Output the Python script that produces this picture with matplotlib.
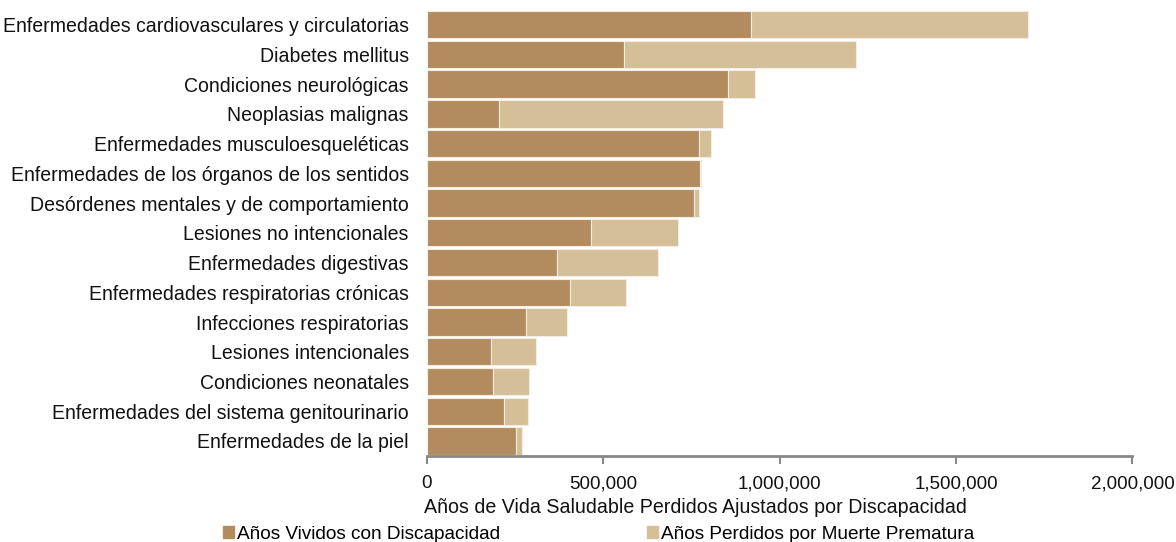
import matplotlib.pyplot as plt
from matplotlib.patches import Patch
from matplotlib.ticker import FuncFormatter

plt.rcParams['font.family'] = ['Liberation Sans', 'DejaVu Sans']

# Categories (top to bottom)
categories = [
    'Enfermedades cardiovasculares y circulatorias',
    'Diabetes mellitus',
    'Condiciones neurológicas',
    'Neoplasias malignas',
    'Enfermedades musculoesqueléticas',
    'Enfermedades de los órganos de los sentidos',
    'Desórdenes mentales y de comportamiento',
    'Lesiones no intencionales',
    'Enfermedades digestivas',
    'Enfermedades respiratorias crónicas',
    'Infecciones respiratorias',
    'Lesiones intencionales',
    'Condiciones neonatales',
    'Enfermedades del sistema genitourinario',
    'Enfermedades de la piel',
]

# Years lived with disability
avd = [920000, 560000, 853000, 205000, 771000, 774000, 758000, 465000,
       370000, 407000, 280000, 182000, 186000, 218000, 254000]
# Years lost to premature death
apmp = [783000, 656000, 76000, 634000, 34000, 3000, 13000, 248000,
        284000, 157000, 117000, 127000, 104000, 69000, 17000]

xticks = [0, 500000, 1000000, 1500000, 2000000]

dark = '#B28C5E'
light = '#D5BF99'
fs = 13.7

fig = plt.figure(figsize=(11.76, 5.42), dpi=100)
ax = fig.add_axes([0.363, 0.159, 0.6, 0.823])

y = range(len(categories))
ax.barh(y, avd, height=0.92, color=dark, edgecolor='#f3ece2', linewidth=0.8)
ax.barh(y, apmp, left=avd, height=0.92, color=light, edgecolor='#f3ece2', linewidth=0.8)

ax.set_ylim(len(categories) - 0.5, -0.5)
ax.set_yticks(list(y))
ax.set_yticklabels(categories, fontsize=14.05, color='#111111')
ax.tick_params(axis='y', length=0, pad=13)

ax.set_xlim(0, 2000000)
ax.set_xticks(xticks)
ax.xaxis.set_major_formatter(FuncFormatter(lambda v, p: f'{int(v):,}'))
ax.tick_params(axis='x', labelsize=13.5, colors='#888888', length=6, width=1.5, pad=8)
for lbl in ax.get_xticklabels():
    lbl.set_color('#111111')

for s in ['top', 'right', 'left']:
    ax.spines[s].set_visible(False)
ax.spines['bottom'].set_color('#888888')
ax.spines['bottom'].set_linewidth(2)

ax.set_xlabel('Años de Vida Saludable Perdidos Ajustados por Discapacidad',
              fontsize=14.1, color='#111111')
ax.xaxis.set_label_coords(0.381, -0.095)

handles = [Patch(color=dark, label='Años Vividos con Discapacidad'),
           Patch(color=light, label='Años Perdidos por Muerte Prematura')]
fig.legend(handles=handles, loc='center', bbox_to_anchor=(0.509, 0.014), ncol=2,
           frameon=False, fontsize=fs, handlelength=0.6, handleheight=0.6,
           handletextpad=0.15, columnspacing=7.7)

fig.savefig('out.png', dpi=100)
